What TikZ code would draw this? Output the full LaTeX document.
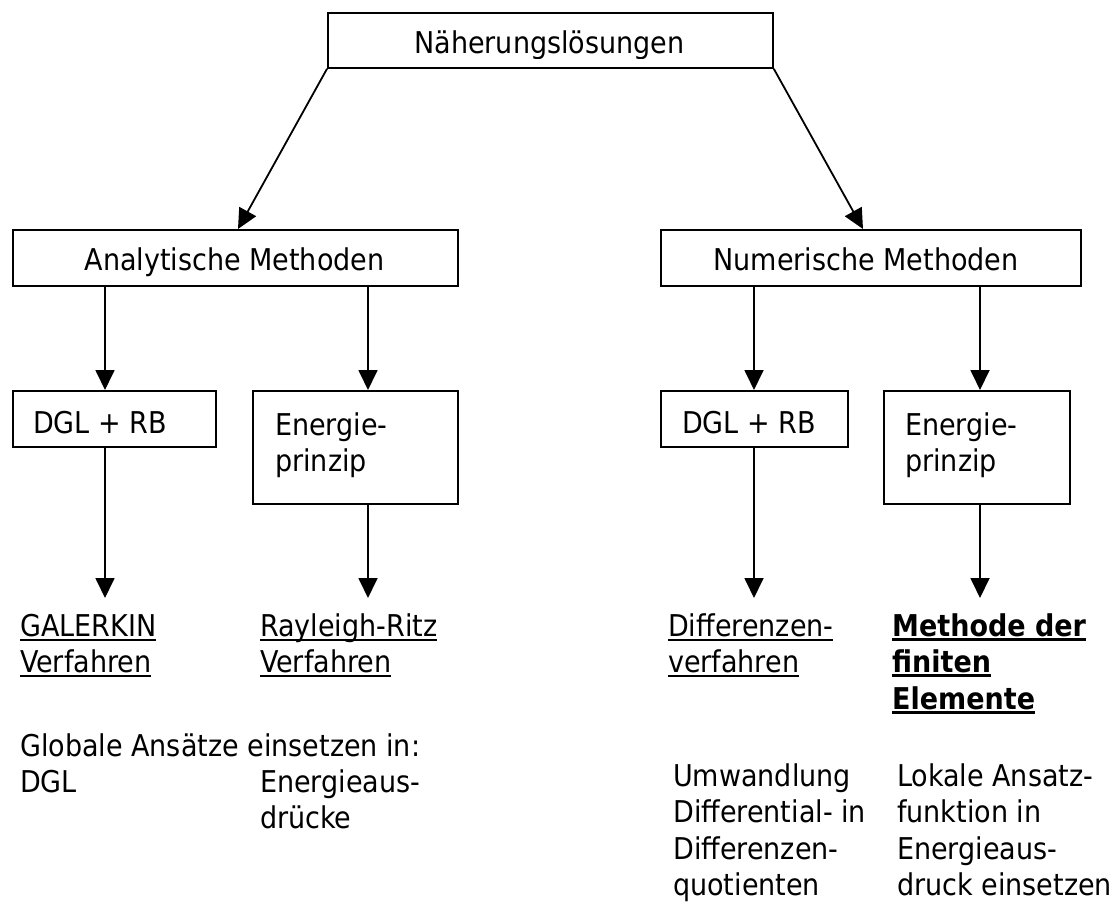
\documentclass[tikz,border=0pt]{standalone}
\usepackage{fontspec}
\setmainfont{DejaVu Sans Condensed}
\usetikzlibrary{arrows.meta}
% underline drawn at a fixed depth below the baseline, crossing descenders
\newcommand\ulword[2][2pt]{\setbox0=\hbox{#2}\rlap{\rule[-4.5pt]{\wd0}{#1}}\box0}
% left-aligned lines whose baseline is that of the first line
\newcommand\stack[1]{\vtop{\halign{##\hfil\cr#1\crcr}}}
\begin{document}
\begin{tikzpicture}[x=1pt,y=-1pt,
  box/.style={draw, line width=1.8pt, inner sep=0pt, anchor=north west},
  txt/.style={inner sep=0pt, font=\fontsize{30}{36.5}\selectfont},
  link/.style={line width=1.8pt, -{Triangle[length=20pt,width=19pt]}},
]
\useasboundingbox (0,0) rectangle (1113,909);

% boxes
\node[box, minimum width=445pt, minimum height=55pt] (top)  at (327,12)  {};
\node[box, minimum width=445pt, minimum height=56pt] (ana)  at (12,229)  {};
\node[box, minimum width=420pt, minimum height=56pt] (num)  at (660,229) {};
\node[box, minimum width=203pt, minimum height=56pt] (ldgl) at (12,390)  {};
\node[box, minimum width=205pt, minimum height=113pt] (lene) at (252,390) {};
\node[box, minimum width=187pt, minimum height=56pt] (rdgl) at (660,390) {};
\node[box, minimum width=186pt, minimum height=113pt] (rene) at (883,390) {};

% box texts
\begin{scope}
  \clip (top.north west) rectangle ([yshift=10pt]top.south east);
  \node[txt, anchor=base] (toptext) at (549.5,54) {Näherungslösungen};
\end{scope}
\node[txt, anchor=base] (anatext) at (234.5,270) {Analytische Methoden};
\node[txt, anchor=base] (numtext) at (866,270) {Numerische Methoden};
\node[txt, anchor=base west] (ldgltext) at (33,433) {DGL + RB};
\node[txt, anchor=base west] (lenetext) at (275,435) {\stack{Energie-\cr prinzip}};
\node[txt, anchor=base west] (rdgltext) at (682,433) {DGL + RB};
\node[txt, anchor=base west] (renetext) at (905,435) {\stack{Energie-\cr prinzip}};

% arrow end points above the method names
\coordinate (galtip) at (105,598);
\coordinate (raytip) at (368,598);
\coordinate (diftip) at (754,598);
\coordinate (femtip) at (980,598);

% connectors
\draw[link] (top.south west) -- ([xshift=226pt]ana.north west);
\draw[link] (top.south east) -- ([xshift=203pt]num.north west);
\draw[link] ([xshift=93pt]ana.south west) -- ([xshift=93pt]ldgl.north west);
\draw[link] ([xshift=356pt]ana.south west) -- ([xshift=116pt]lene.north west);
\draw[link] ([xshift=94pt]num.south west) -- ([xshift=94pt]rdgl.north west);
\draw[link] ([xshift=320pt]num.south west) -- ([xshift=97pt]rene.north west);
\draw[link] ([xshift=93pt]ldgl.south west) -- (galtip);
\draw[link] ([xshift=116pt]lene.south west) -- (raytip);
\draw[link] ([xshift=94pt]rdgl.south west) -- (diftip);
\draw[link] ([xshift=97pt]rene.south west) -- (femtip);

% method names
\node[txt, anchor=base west] (galerkin) at (20,636) {\stack{\ulword{GALERKIN}\cr\ulword{Verfahren}}};
\node[txt, anchor=base west] (ritz) at (260,636) {\stack{\ulword{Rayleigh-Ritz}\cr\ulword{Verfahren}}};
\node[txt, anchor=base west] (diff) at (668,636) {\stack{\ulword{Differenzen-}\cr\ulword{verfahren}}};
\node[txt, anchor=base west, font=\fontsize{30}{36.5}\selectfont\bfseries] (fem) at (892,636)
  {\stack{\ulword[3pt]{Methode der}\cr\ulword[3pt]{finiten}\cr\ulword[3pt]{Elemente}}};

% explanations
\node[txt, anchor=base west] (global) at (20,756) {Globale Ansätze einsetzen in:};
\node[txt, anchor=base west] (dgl) at (20,792) {DGL};
\node[txt, anchor=base west] (energie) at (260,792) {\stack{Energieaus-\cr drücke}};
\node[txt, anchor=base west] (umw) at (673,786) {\stack{Umwandlung\cr Differential- in\cr Differenzen-\cr quotienten}};
\node[txt, anchor=base west] (lokal) at (897,786) {\stack{Lokale Ansatz-\cr funktion in\cr Energieaus-\cr druck einsetzen}};
\end{tikzpicture}
\end{document}
